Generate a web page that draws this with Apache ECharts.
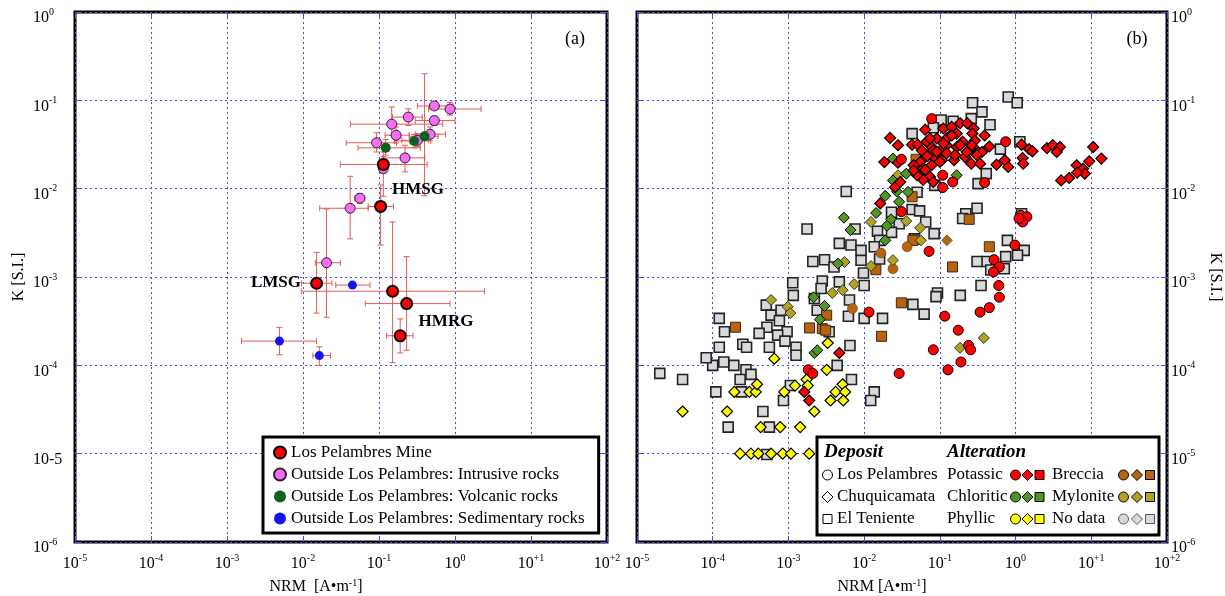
<!DOCTYPE html>
<html><head><meta charset="utf-8">
<script src="https://cdn.jsdelivr.net/npm/echarts@6/dist/echarts.min.js"></script>
<style>html,body{margin:0;padding:0;background:#fff}#c{width:1225px;height:596px}</style>
</head><body><div id="c"></div>
<script>
// ---------------- Tick labels ----------------
const xTickLabels = ['10^-5','10^-4','10^-3','10^-2','10^-1','10^0','10^+1','10^+2'];
const yTickLabelsA = ['10^-6','10-5','10^-4','10^-3','10^-2','10^-1','10^0'];
const yTickLabelsB = ['10^-6','10^-5','10^-4','10^-3','10^-2','10^-1','10^0'];

// ---------------- Panel (a): [NRM, K, NRMlow, NRMhigh, Klow, Khigh] ----------------
const losPelambresMine = [
 [0.105,0.0063,0.072,0.155,0.0023,0.011],
 [0.114,0.0188,0.031,0.43,0.015,0.023],
 [0.0151,0.00085,0.0096,0.024,0.00039,0.0019],
 [0.151,0.00069,0.0095,2.45,0.000107,0.0042],
 [0.231,0.00050,0.066,0.86,0.000148,0.0017],
 [0.19,0.000216,0.126,0.28,0.000138,0.000335]
];
const intrusiveRocks = [
 [0.535,0.0863,0.32,0.94,0.079,0.094],
 [0.86,0.0797,0.45,2.2,0.068,0.095],
 [0.535,0.059,0.30,1.0,0.052,0.066],
 [0.243,0.0646,0.15,0.37,0.052,0.08],
 [0.147,0.0537,0.042,0.69,0.04,0.084],
 [0.168,0.0403,0.12,0.25,0.033,0.05],
 [0.093,0.0331,0.037,0.17,0.026,0.043],
 [0.47,0.0413,0.30,0.75,0.035,0.05],
 [0.32,0.0353,0.20,0.45,0.03,0.042],
 [0.22,0.0223,0.113,0.40,0.0155,0.031],
 [0.114,0.0169,0.105,0.125,0.0082,0.026],
 [0.056,0.0078,0.048,0.065,0.0068,0.0088],
 [0.0417,0.006,0.0166,0.072,0.0027,0.0138],
 [0.0204,0.00145,0.0145,0.031,0.00035,0.0059]
];
const volcanicRocks = [
 [0.1225,0.029,0.053,0.35,0.024,0.036],
 [0.29,0.0347,0.16,0.48,0.029,0.041],
 [0.398,0.0392,0.25,0.6,0.0083,0.2]
];
const sedimentaryRocks = [
 [0.0447,0.00081,0.027,0.076,0.00081,0.00081],
 [0.0049,0.000188,0.00155,0.0151,0.000132,0.000269],
 [0.0164,0.000129,0.0135,0.023,0.0001,0.000162]
];
const seriesNamesA = ['Los Pelambres Mine','Outside Los Pelambres: Intrusive rocks','Outside Los Pelambres: Volcanic rocks','Outside Los Pelambres: Sedimentary rocks'];

// ---------------- Panel (b): [NRM, K] ----------------
const elTenienteNoData = [
 [0.27,0.094],[0.36,0.074],[0.80,0.109],[1.05,0.094],[0.46,0.053],[0.104,0.060],[0.15,0.058],[0.26,0.062],[0.043,0.042],[0.082,0.049],[1.14,0.034],[0.63,0.028],[0.41,0.0148],[0.32,0.0114],[0.0058,0.0093],[0.050,0.0091],[0.043,0.0058],[0.054,0.0056],[0.31,0.0060],[0.086,0.0109],[0.22,0.0052],[1.2,0.0052],
 [0.20,0.0046],[0.065,0.0042],[0.084,0.0031],[0.046,0.0027],[0.023,0.0054],[0.029,0.0040],[0.023,0.0032],[0.015,0.0033],[0.016,0.0026],[0.0136,0.0022],[0.016,0.0016],[0.0091,0.00155],[0.0076,0.0035],[0.00176,0.0035],[0.0047,0.0024],[0.0067,0.0023],[0.0091,0.0020],[0.0021,0.0015],[0.0030,0.00157],[0.0040,0.0013],[0.0098,0.00111],[0.010,0.00080],[0.78,0.0026],[1.3,0.0020],[0.74,0.0017],[1.06,0.00176],[0.41,0.0015],[0.31,0.0015],[0.47,0.0012],[0.71,0.00124],[0.35,0.00080],[0.093,0.00066],[0.089,0.00060],[0.186,0.00062],[0.044,0.00049],[0.062,0.00038],[0.0175,0.00034],[0.010,0.00034],[0.0062,0.00036],[0.0064,0.00055],[0.0024,0.00042],[0.00114,0.00086],[0.00116,0.00062],[0.0028,0.00090],[0.0027,0.00074],[0.0047,0.00088],[0.0022,0.00057],[0.00051,0.00048],[0.00059,0.00037],[0.00080,0.00042],[0.00076,0.00032],[0.00052,0.00027],[0.00096,0.00024],[0.00072,0.00022],[0.00041,0.00023],[0.000122,0.00034],[0.000143,0.00024],
 [2.0e-5,8.1e-5],[4.0e-5,6.9e-5],[1.1e-4,5.0e-5],[1.6e-4,2.0e-5],[4.6e-4,3.0e-5],[5.6e-4,2.0e-5],[5.2e-4,9.8e-6],[8.6e-4,4.0e-5],[1.06e-3,5.9e-5],[2.75e-4,8.9e-5],[2.3e-4,6.9e-5],[3.2e-4,7.9e-5],[2.4e-4,5.0e-5],[1.9e-4,1.0e-4],[1.4e-4,1.09e-4],[1.0e-4,1.0e-4],[8.2e-5,1.22e-4],[1.22e-4,1.6e-4],[2.5e-4,1.73e-4],[2.8e-4,1.6e-4],[9.0e-4,1.88e-4],[5.6e-4,1.6e-4],[1.26e-3,1.6e-4],[1.26e-3,1.3e-4],[3.45e-3,2.4e-4],[6.5e-3,1.68e-4],[4.4e-3,1.0e-4],[6.8e-3,6.9e-5],[0.0136,5.0e-5],[0.0122,4.0e-5]
];
const elTenienteBreccia = [
 [0.043,0.0081],[0.0485,0.0215],[0.244,0.0045],[0.45,0.0022],[0.147,0.0013],[0.044,0.0026],[0.0143,0.00121],[0.031,0.00051],[0.0032,0.00037],[0.0028,0.00026],[0.0019,2.65e-4],[2.0e-4,2.7e-4],[0.017,2.13e-4],[0.0031,2.5e-4]
];
const losPelambresBreccia = [[0.037,0.0022],[0.0167,0.00187],[0.024,0.00124],[0.0070,0.00044]];
const chuquiBreccia = [[0.124,0.0026]];
const chuquiMylonite = [
 [0.028,0.0142],[0.0123,0.0042],[0.036,0.0043],[0.055,0.0036],[0.056,0.0026],[0.024,0.00155],[0.0123,0.00133],[0.0055,0.00148],[0.0074,0.00083],[0.0052,0.00071],[0.0038,0.00066],[0.00059,0.00055],[0.00098,0.00046],[0.00106,0.00039],[0.38,2.04e-4],[0.185,1.58e-4]
];
const chuquiPhyllic = [
 [4.0e-5,3.0e-5],[1.55e-4,3.0e-5],[1.93e-4,5.0e-5],[3.05e-4,5.0e-5],[3.7e-4,5.0e-5],[3.85e-4,6.1e-5],[6.5e-4,1.19e-4],[8.8e-4,5.0e-5],[1.22e-3,5.9e-5],[1.74e-3,6.9e-5],[1.8e-3,5.9e-5],[3.2e-3,8.9e-5],[3.3e-3,1.79e-4],[4.2e-3,5.0e-5],[5.2e-3,6.1e-5],[5.6e-3,5.0e-5],[3.6e-3,4.0e-5],[5.3e-3,4.0e-5],[2.2e-3,3.0e-5],[4.3e-4,2.0e-5],[7.8e-4,2.0e-5],[1.43e-3,2.0e-5],[2.3e-4,1.0e-5],[3.2e-4,1.0e-5],[4.0e-4,1.0e-5],[5.9e-4,1.0e-5],[8.4e-4,1.0e-5],[1.08e-3,1.0e-5],[1.88e-3,1.0e-5]
];
const chuquiChloritic = [
 [0.024,0.0219],[0.036,0.0148],[0.024,0.0124],[0.019,0.0083],[0.027,0.0093],[0.038,0.0092],[0.167,0.0142],[0.0144,0.0053],[0.0054,0.0047],[0.0066,0.0034],[0.0226,0.0045],[0.020,0.0038],[0.019,0.0026],[0.029,0.0071],[0.0045,0.00142],[0.00215,0.00059],[0.0030,0.00047],[0.0026,0.00033],[0.0022,1.38e-4],[0.0024,1.48e-4]
];
const chuquiPotassic = [
 [0.022,0.0375],[0.028,0.031],[0.0185,0.020],[0.028,0.0197],[0.064,0.0466],[0.111,0.048],[0.143,0.050],[0.185,0.055],[0.23,0.055],[0.28,0.048],[0.27,0.042],[0.39,0.040],[0.45,0.030],[0.32,0.026],[0.25,0.028],[0.167,0.0296],[0.162,0.0238],[0.123,0.031],[0.091,0.037],[0.074,0.031],[0.095,0.026],[0.067,0.0238],[0.055,0.020],[0.045,0.0184],[0.043,0.0315],[0.051,0.0315],[0.058,0.027],[0.082,0.0228],[0.106,0.021],[0.154,0.021],[0.215,0.0228],[0.26,0.0192],[0.34,0.0192],[0.36,0.026],[0.20,0.034],[0.29,0.035],[0.136,0.040],[0.111,0.028],[0.082,0.027],[0.067,0.034],[0.123,0.037],[0.167,0.042],[0.56,0.0187],[0.72,0.021],[0.80,0.0176],[1.2,0.0315],[1.51,0.028],[1.67,0.0265],[1.24,0.0222],[1.26,0.0192],[2.6,0.0288],[3.1,0.031],[3.85,0.0296],[3.5,0.026],[10.6,0.0296],[13.6,0.0219],[9.4,0.0204],[6.4,0.0184],[7.8,0.0168],[8.2,0.0148],[5.1,0.0132],[4.0,0.0124],[6.5,0.0152],[0.060,0.0168],[0.074,0.0136],[0.060,0.0126],[0.082,0.0119],[0.050,0.0142],[0.045,0.0161],[0.0256,0.0104],[0.030,0.0119],[0.0163,0.0068],[0.0047,1.38e-4],[0.00162,5.0e-5],[0.00188,4.0e-5],
 [0.068,0.0234],[0.111,0.0326],[0.123,0.0251],[0.158,0.024],[0.10,0.0202],[0.078,0.0185],[0.074,0.037],[0.144,0.040],[0.185,0.031],[0.226,0.026],[0.264,0.031],[0.307,0.024],[0.064,0.0163],[0.091,0.0263]
];
const losPelambresPotassic = [
 [0.078,0.062],[0.74,0.034],[0.109,0.0142],[0.148,0.0119],[0.109,0.0103],[0.39,0.0117],[0.031,0.0215],[0.031,0.0055],[1.17,0.0050],[1.41,0.0048],[1.24,0.0042],[1.11,0.0046],[0.072,0.00195],[0.98,0.0023],[0.52,0.00157],[0.61,0.0013],[0.51,0.00114],[0.60,0.00080],[0.61,0.00059],[0.45,0.00045],[0.34,0.00040],[0.116,0.00036],[0.175,0.00025],[0.0116,0.00040],[0.00183,8.9e-5],[0.0021,8.1e-5],[0.029,8.1e-5],[0.082,1.5e-4],[0.24,1.68e-4],[0.255,1.5e-4],[0.19,1.09e-4],[0.128,8.9e-5]
];
const depositNames = ['Los Pelambres','Chuquicamata','El Teniente'];
const alterationNames = ['Potassic','Chloritic','Phyllic','Breccia','Mylonite','No data'];

// ---------------- Styling ----------------
const FONT = 'Liberation Serif';
const GRID_BLUE = '#4b4be0';
const ERR = '#e25a5a';
const COL = {potassic:'#ff0000', chloritic:'#4f9622', phyllic:'#ffff00', breccia:'#b8640f', mylonite:'#b3a21f', nodata:'#d9d9d9'};
const alterationColors = [COL.potassic, COL.chloritic, COL.phyllic, COL.breccia, COL.mylonite, COL.nodata];

function richLabel(s){ const p = s.split('^'); return p.length > 1 ? '{b|' + p[0] + '}{s|' + p[1] + '}' : '{b|' + s + '}'; }
function labelFor(arr, minExp){ return function(v){ const e = Math.round(Math.log10(v)); const t = arr[e - minExp]; return t ? richLabel(t) : ''; }; }
const tickRich = { b:{fontFamily:FONT,fontSize:16,color:'#000',padding:[12,0,0,0]}, s:{fontFamily:FONT,fontSize:10,color:'#000'} };
const nameRich = { m:{fontFamily:FONT,fontSize:16,color:'#000'}, s:{fontFamily:FONT,fontSize:10,color:'#000',padding:[0,0,8,0]} };
const tick = {show:true, inside:true, length:6, lineStyle:{color:GRID_BLUE, width:1}};
const split = {show:true, lineStyle:{color:GRID_BLUE, type:[2,3], width:1}};

function xAxis(gi, pos, main, name, padRight){
  const a = {type:'log', logBase:10, gridIndex:gi, position:pos, min:1e-5, max:100, interval:1, splitNumber:7,
    axisLine:{show:false}, axisTick:tick, splitLine: main ? split : {show:false}, minorTick:{show:false},
    axisLabel: main ? {show:true, margin:2, formatter:labelFor(xTickLabels,-5), rich:tickRich} : {show:false}};
  if (main) { a.name = name; a.nameLocation='middle'; a.nameGap=45;
    a.nameTextStyle = {verticalAlign:'middle', rich:nameRich, padding:[0,padRight,0,0]}; }
  return a;
}
function yAxis(gi, pos, main, labels, align, margin, nameGap, nameRotate){
  const a = {type:'log', logBase:10, gridIndex:gi, position:pos, min:1e-6, max:1, interval:1, splitNumber:6,
    axisLine:{show:false}, axisTick:tick, splitLine: main ? split : {show:false}, minorTick:{show:false},
    axisLabel: main ? {show:true, align:align, margin:margin, verticalAlign:'middle', formatter:labelFor(labels,-6), rich:tickRich} : {show:false}};
  if (main) { a.name='K [S.I.]'; a.nameLocation='middle'; a.nameGap=nameGap; a.nameRotate=nameRotate;
    a.nameTextStyle = {fontFamily:FONT, fontSize:16, color:'#000', verticalAlign:'middle'}; }
  return a;
}

function errSeries(name, data){
  return {type:'custom', name:name+' err', xAxisIndex:0, yAxisIndex:0, data:data, silent:true, z:2,
    encode:{x:[0,2,3], y:[1,4,5]},
    renderItem:function(params, api){
      const x=api.value(0), y=api.value(1), xl=api.value(2), xh=api.value(3), yl=api.value(4), yh=api.value(5);
      const st = {stroke:ERR, lineWidth:1, fill:null};
      const c = 3, ch = [];
      if (xh > xl){ const L=api.coord([xl,y]), R=api.coord([xh,y]);
        ch.push({type:'line', shape:{x1:L[0],y1:L[1],x2:R[0],y2:R[1]}, style:st});
        ch.push({type:'line', shape:{x1:L[0],y1:L[1]-c,x2:L[0],y2:L[1]+c}, style:st});
        ch.push({type:'line', shape:{x1:R[0],y1:R[1]-c,x2:R[0],y2:R[1]+c}, style:st}); }
      if (yh > yl){ const B=api.coord([x,yl]), T=api.coord([x,yh]);
        ch.push({type:'line', shape:{x1:B[0],y1:B[1],x2:T[0],y2:T[1]}, style:st});
        ch.push({type:'line', shape:{x1:B[0]-c,y1:B[1],x2:B[0]+c,y2:B[1]}, style:st});
        ch.push({type:'line', shape:{x1:T[0]-c,y1:T[1],x2:T[0]+c,y2:T[1]}, style:st}); }
      return {type:'group', children:ch};
    }};
}
function scatterA(name, data, color, size, bc, bw){
  return {type:'scatter', name:name, xAxisIndex:0, yAxisIndex:0, data:data, encode:{x:0,y:1}, symbol:'circle', symbolSize:size, z:3,
    itemStyle:{color:color, borderColor:bc, borderWidth:bw, opacity:1}};
}
function scatterB(name, data, symbol, color, size, bc, bw){
  return {type:'scatter', name:name, xAxisIndex:2, yAxisIndex:2, data:data, symbol:symbol, symbolSize:size, z:3,
    itemStyle:{color:color, borderColor:bc, borderWidth:bw, opacity:1}};
}

// ---------------- Graphic: annotations and legend (b) ----------------
function txt(x, y, text, size, weight, style, align){
  return {type:'text', x:x, y:y, z:110, style:{text:text, fontFamily:FONT, fontSize:size, fontWeight:weight||'normal', fontStyle:style||'normal', fill:'#000', align:align||'center', verticalAlign:'middle', textAlign:align||'center', textVerticalAlign:'middle'}};
}
function glyph(shape, cx, cy, fill, stroke){
  const st = {fill:fill, stroke:stroke, lineWidth:1};
  if (shape === 'circle') return {type:'circle', z:110, shape:{cx:cx, cy:cy, r:5}, style:st};
  if (shape === 'diamond') return {type:'polygon', z:110, shape:{points:[[cx,cy-5.5],[cx+5.5,cy],[cx,cy+5.5],[cx-5.5,cy]]}, style:st};
  return {type:'rect', z:110, shape:{x:cx-4.5, y:cy-4.5, width:9, height:9}, style:st};
}
const shapes = ['circle','diamond','square'];
const rowsY = [475, 497, 519];
const graphics = [
  txt(575, 39, '(a)', 18), txt(1137, 39, '(b)', 18),
  txt(418, 190, 'HMSG', 17, 'bold'), txt(276, 283, 'LMSG', 17, 'bold'), txt(446, 322, 'HMRG', 17, 'bold'),
  {type:'rect', z:105, shape:{x:817, y:437, width:342, height:98}, style:{fill:'#fff', stroke:'#000', lineWidth:3}},
  txt(824, 452, 'Deposit', 19, 'bold', 'italic', 'left'),
  txt(947, 452, 'Alteration', 19, 'bold', 'italic', 'left')
];
depositNames.forEach(function(n, i){
  graphics.push(glyph(shapes[i], 827.5, rowsY[i], '#fff', '#000'));
  graphics.push(txt(837, rowsY[i], n, 17, 'normal', 'normal', 'left'));
});
alterationNames.forEach(function(n, i){
  const col = i < 3 ? 0 : 1, row = i % 3;
  const tx = col === 0 ? 947 : 1052;
  const gx = col === 0 ? [1015.5, 1027.5, 1039.5] : [1123.5, 1137, 1150];
  graphics.push(txt(tx, rowsY[row], n, 17, 'normal', 'normal', 'left'));
  const stroke = i === 5 ? '#555' : '#000';
  for (let k = 0; k < 3; k++) graphics.push(glyph(shapes[k], gx[k], rowsY[row], alterationColors[i], stroke));
});

const option = {
  animation:false,
  backgroundColor:'#fff',
  textStyle:{fontFamily:FONT},
  grid:[
    {left:75, top:12, width:532, height:530, show:true, borderColor:'#000', borderWidth:3, backgroundColor:'#fff', containLabel:false, outerBoundsMode:'none'},
    {left:637, top:12, width:530, height:530, show:true, borderColor:'#000', borderWidth:3, backgroundColor:'#fff', containLabel:false, outerBoundsMode:'none'}
  ],
  xAxis:[
    xAxis(0,'bottom',true,'{m|NRM  [A•m}{s|-1}{m|]}',50),
    xAxis(0,'top',false),
    xAxis(1,'bottom',true,'{m|NRM [A•m}{s|-1}{m|]}',40),
    xAxis(1,'top',false)
  ],
  yAxis:[
    yAxis(0,'left',true,yTickLabelsA,'left',42,56,90),
    yAxis(0,'right',false),
    yAxis(1,'right',true,yTickLabelsB,'left',4,48,-90),
    yAxis(1,'left',false)
  ],
  legend:{data:seriesNamesA, orient:'vertical', left:263, top:437, padding:[7,14,6,10], itemGap:5, itemWidth:12, itemHeight:12,
    borderColor:'#000', borderWidth:3, backgroundColor:'#fff', selectedMode:false, icon:'circle', z:20,
    textStyle:{fontFamily:FONT, fontSize:17, color:'#000'}},
  graphic:graphics,
  series:[
    errSeries(seriesNamesA[0], losPelambresMine),
    errSeries(seriesNamesA[1], intrusiveRocks),
    errSeries(seriesNamesA[2], volcanicRocks),
    errSeries(seriesNamesA[3], sedimentaryRocks),
    scatterA(seriesNamesA[1], intrusiveRocks, '#f46ff4', 10, '#3a1a3a', 1),
    scatterA(seriesNamesA[2], volcanicRocks, '#0b5f1f', 10, '#0b5f1f', 0),
    scatterA(seriesNamesA[3], sedimentaryRocks, '#1414ee', 9, '#1414ee', 0),
    scatterA(seriesNamesA[0], losPelambresMine, '#ff0000', 11, '#000', 2),
    scatterB('El Teniente: No data', elTenienteNoData, 'rect', COL.nodata, 10, '#222', 1.6),
    scatterB('El Teniente: Breccia', elTenienteBreccia, 'rect', COL.breccia, 10, '#3a2a10', 1),
    scatterB('Los Pelambres: Breccia', losPelambresBreccia, 'circle', COL.breccia, 10, '#3a2a10', 0.5),
    scatterB('Chuquicamata: Breccia', chuquiBreccia, 'diamond', COL.breccia, 11, '#3a2a10', 0.5),
    scatterB('Chuquicamata: Mylonite', chuquiMylonite, 'diamond', COL.mylonite, 11, '#333', 1),
    scatterB('Chuquicamata: Phyllic', chuquiPhyllic, 'diamond', COL.phyllic, 11, '#000', 1.2),
    scatterB('Chuquicamata: Chloritic', chuquiChloritic, 'diamond', COL.chloritic, 11, '#000', 1),
    scatterB('Chuquicamata: Potassic', chuquiPotassic, 'diamond', COL.potassic, 11, '#000', 1.2),
    scatterB('Los Pelambres: Potassic', losPelambresPotassic, 'circle', COL.potassic, 10, '#000', 1)
  ]
};
const chart = echarts.init(document.getElementById('c'), null, {renderer:'canvas'});
chart.setOption(option);
</script></body></html>
